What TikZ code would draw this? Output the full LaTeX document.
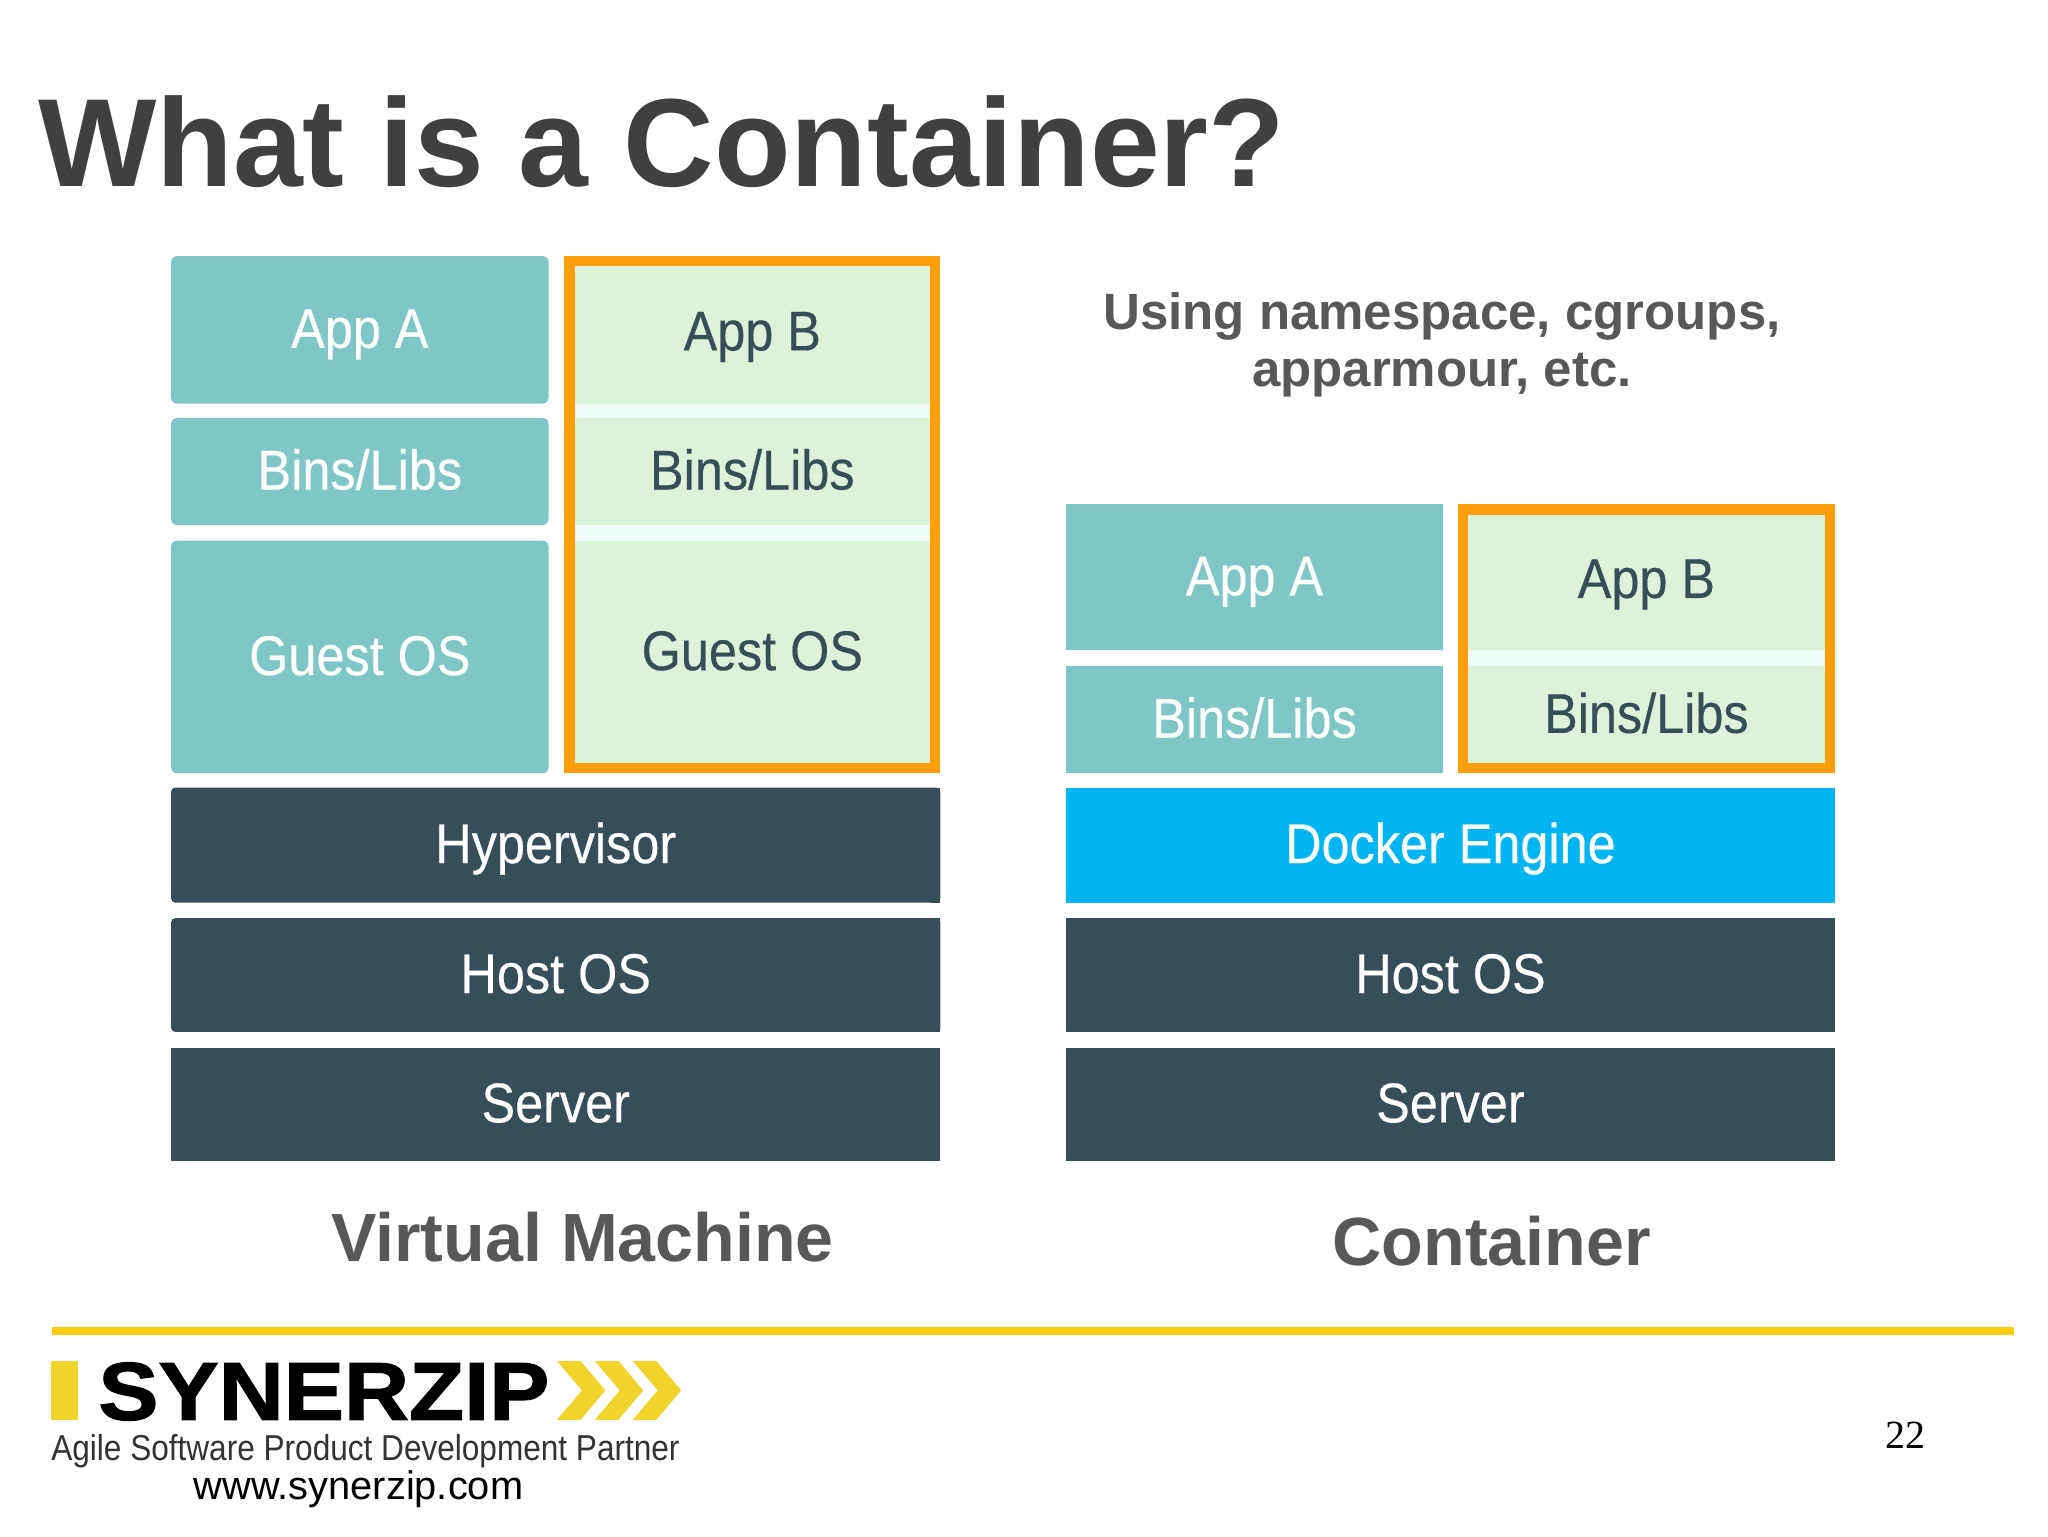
\documentclass[tikz,border=0pt]{standalone}
\usepackage{fontspec}
\setmainfont{Liberation Sans}
\newfontfamily\boxfont[FakeStretch=0.9,FakeBold=0.3]{Liberation Sans}
\newfontfamily\narrowfont[FakeStretch=0.877]{Liberation Sans}
\newfontfamily\logofont[FakeStretch=1.1,FakeBold=1.5]{Liberation Sans Bold}
\newfontfamily\numfont{Liberation Serif}
\definecolor{teal}{HTML}{7FC7C6}
\definecolor{palegreen}{HTML}{DCF2D9}
\definecolor{gapcol}{HTML}{EEFBF9}
\definecolor{slate}{HTML}{354E57}
\definecolor{dockerblue}{HTML}{00B5F1}
\definecolor{framecol}{HTML}{FF9E0B}
\definecolor{rulecol}{HTML}{FFCC0C}
\definecolor{logoyellow}{HTML}{F2D32B}
\definecolor{titlecol}{HTML}{404040}
\definecolor{subcol}{HTML}{58585A}
\newcommand{\unitpt}{0.65306}
\tikzset{
  stackbox/.style={inner sep=0pt,outer sep=0pt,text height=18pt,text depth=0pt,align=center,
    font=\boxfont\fontsize{28}{30}\selectfont},
  tealbox/.style={stackbox,fill=teal,text=white},
  tealround/.style={tealbox,rounded corners=3pt},
  greenbox/.style={stackbox,fill=palegreen,text=slate},
  slatebox/.style={stackbox,fill=slate,text=white},
  dockerbox/.style={stackbox,fill=dockerblue,text=white},
  frameline/.style={draw=framecol,line width=5.2pt},
  captiontext/.style={anchor=base,font=\bfseries\fontsize{34.1}{38}\selectfont,text=subcol,inner sep=0pt},
  usingtext/.style={anchor=base,inner sep=0pt,text=subcol,font=\bfseries\fontsize{25.5}{29}\selectfont},
}
% name, style, x1, y1, x2, y2, text
\newcommand{\stackn}[7]{%
  \node[#2,minimum width={(#5-#3)*\unitpt*1pt},minimum height={(#6-#4)*\unitpt*1pt}]
    (#1) at ({(#3+#5)/2},{(#4+#6)/2}) {#7};}
\begin{document}
\begin{tikzpicture}[x=0.65306pt,y=-0.65306pt]
\useasboundingbox[fill=white] (0,0) rectangle (1568,1176);
\node[anchor=base west,inner sep=0pt,text=titlecol,font=\bfseries\fontsize{62.7}{70}\selectfont] (title) at (29,143) {What is a Container?};
% Virtual machine stack
\stackn{vmappa}{tealround}{131}{196}{420}{309}{App A}
\stackn{vmbinsa}{tealround}{131}{320}{420}{402}{Bins/Libs}
\stackn{vmguesta}{tealround}{131}{414}{420}{592}{Guest OS}
\fill[gapcol] (436,300) rectangle (716,424);
\stackn{vmappb}{greenbox}{436}{200}{716}{309}{App B}
\stackn{vmbinsb}{greenbox}{436}{320}{716}{402}{Bins/Libs}
\stackn{vmguestb}{greenbox,text height=15.8pt}{436}{414}{716}{588}{Guest OS}
\draw[frameline] (436,200) rectangle (716,588);
\fill[slate] (712,603) rectangle (720,691);
\fill[slate] (712,703) rectangle (720,790);
\stackn{hyper}{slatebox,rounded corners=2pt}{131}{603}{720}{691}{Hypervisor}
\stackn{vmhost}{slatebox,rounded corners=2pt}{131}{703}{720}{790}{Host OS}
\stackn{vmserver}{slatebox}{131}{802}{720}{889}{Server}
% Container stack
\stackn{cappa}{tealbox}{816}{386}{1105}{498}{App A}
\stackn{cbinsa}{tealbox}{816}{510}{1105}{592}{Bins/Libs}
\fill[gapcol] (1120,490) rectangle (1401,520);
\stackn{cappb}{greenbox}{1120}{390}{1401}{498}{App B}
\stackn{cbinsb}{greenbox,text height=15.8pt}{1120}{510}{1401}{588}{Bins/Libs}
\draw[frameline] (1120,390) rectangle (1401,588);
\stackn{docker}{dockerbox}{816}{603}{1405}{691}{Docker Engine}
\stackn{chost}{slatebox}{816}{703}{1405}{790}{Host OS}
\stackn{cserver}{slatebox}{816}{802}{1405}{889}{Server}
% Captions
\node[usingtext] (usea) at (1104,252) {Using namespace, cgroups,};
\node[usingtext] (useb) at (1104,296) {apparmour, etc.};
\node[captiontext] (vmcap) at (446,966) {Virtual Machine};
\node[captiontext] (ccap) at (1142,969) {Container};
% Footer
\fill[rulecol] (40,1016) rectangle (1542,1022);
\fill[logoyellow] (39,1042) rectangle (60,1087);
\node[anchor=base west,inner sep=0pt,text=black,font=\logofont\fontsize{41}{44}\selectfont] (synerzip) at (75,1087) {SYNERZIP};
\foreach \dx in {0,29,58}
  \fill[logoyellow,shift={(\dx+1.5,0)}] (425,1042) -- (443,1042) -- (462,1064.5) -- (443,1087) -- (425,1087) -- (444,1064.5) -- cycle;
\node[anchor=base west,inner sep=0pt,text=black!80,font=\narrowfont\fontsize{18}{20}\selectfont] (agile) at (39,1118.5) {Agile Software Product Development Partner};
\node[anchor=base west,inner sep=0pt,text=black,font=\fontsize{19.9}{22}\selectfont] (www) at (148,1148) {www.synerzip.com};
\node[anchor=base west,inner sep=0pt,text=black,font=\numfont\fontsize{20}{22}\selectfont] (page) at (1443,1109) {22};
\end{tikzpicture}
\end{document}
